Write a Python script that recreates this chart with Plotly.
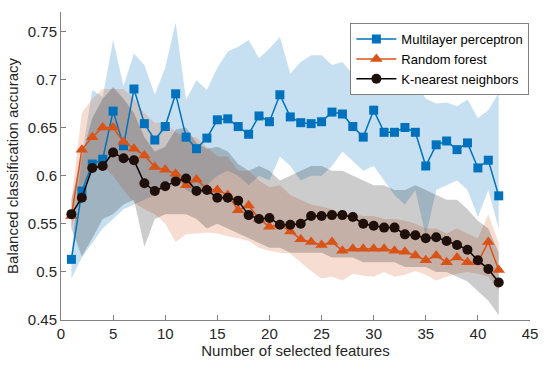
import plotly.graph_objects as go

n_features = list(range(1, 43))

mlp_mean = [0.513, 0.584, 0.612, 0.617, 0.667, 0.631, 0.690, 0.654, 0.637, 0.651,
            0.685, 0.640, 0.628, 0.639, 0.658, 0.659, 0.651, 0.643, 0.662, 0.656,
            0.684, 0.661, 0.655, 0.654, 0.656, 0.666, 0.664, 0.651, 0.640, 0.668,
            0.645, 0.645, 0.650, 0.645, 0.610, 0.632, 0.636, 0.627, 0.634, 0.608,
            0.616, 0.579]
mlp_upper = [0.520, 0.620, 0.689, 0.682, 0.741, 0.693, 0.727, 0.715, 0.684, 0.712,
             0.759, 0.679, 0.699, 0.689, 0.712, 0.729, 0.734, 0.741, 0.722, 0.732,
             0.744, 0.706, 0.718, 0.725, 0.725, 0.715, 0.718, 0.705, 0.703, 0.715,
             0.710, 0.705, 0.703, 0.698, 0.680, 0.675, 0.676, 0.672, 0.679, 0.660,
             0.668, 0.686]
mlp_lower = [0.493, 0.515, 0.530, 0.545, 0.555, 0.565, 0.570, 0.575, 0.580, 0.590,
             0.600, 0.585, 0.580, 0.590, 0.600, 0.605, 0.600, 0.590, 0.600, 0.595,
             0.620, 0.610, 0.595, 0.600, 0.600, 0.610, 0.625, 0.615, 0.605, 0.610,
             0.595, 0.580, 0.570, 0.585, 0.537, 0.585, 0.590, 0.595, 0.585, 0.557,
             0.585, 0.545]

rf_mean = [0.558, 0.627, 0.640, 0.650, 0.650, 0.635, 0.628, 0.621, 0.609, 0.606,
           0.602, 0.590, 0.596, 0.586, 0.585, 0.580, 0.564, 0.569, 0.555, 0.547,
           0.549, 0.542, 0.534, 0.531, 0.528, 0.531, 0.522, 0.524, 0.524, 0.524,
           0.524, 0.522, 0.521, 0.517, 0.512, 0.517, 0.510, 0.515, 0.510, 0.510,
           0.531, 0.502]
rf_upper = [0.575, 0.665, 0.680, 0.690, 0.690, 0.690, 0.680, 0.665, 0.655, 0.655,
            0.645, 0.640, 0.640, 0.630, 0.620, 0.620, 0.605, 0.605, 0.595, 0.588,
            0.590, 0.580, 0.575, 0.570, 0.568, 0.565, 0.560, 0.560, 0.558, 0.558,
            0.555, 0.555, 0.553, 0.550, 0.545, 0.545, 0.540, 0.545, 0.540, 0.535,
            0.560, 0.530]
rf_lower = [0.545, 0.590, 0.605, 0.610, 0.600, 0.585, 0.572, 0.565, 0.560, 0.550,
            0.531, 0.539, 0.540, 0.541, 0.540, 0.537, 0.535, 0.532, 0.525, 0.522,
            0.520, 0.519, 0.510, 0.501, 0.493, 0.495, 0.491, 0.498, 0.496, 0.495,
            0.500, 0.495, 0.497, 0.501, 0.497, 0.491, 0.495, 0.498, 0.500, 0.498,
            0.495, 0.480]

knn_mean = [0.560, 0.577, 0.608, 0.610, 0.624, 0.618, 0.616, 0.592, 0.584, 0.589,
            0.594, 0.597, 0.584, 0.585, 0.577, 0.577, 0.574, 0.559, 0.555, 0.556,
            0.549, 0.549, 0.550, 0.558, 0.558, 0.559, 0.559, 0.557, 0.550, 0.548,
            0.546, 0.546, 0.539, 0.538, 0.535, 0.536, 0.532, 0.528, 0.523, 0.512,
            0.503, 0.489]
knn_upper = [0.575, 0.620, 0.660, 0.680, 0.692, 0.680, 0.665, 0.640, 0.625, 0.630,
             0.648, 0.650, 0.634, 0.628, 0.630, 0.625, 0.612, 0.605, 0.610, 0.605,
             0.595, 0.600, 0.605, 0.610, 0.610, 0.605, 0.605, 0.600, 0.595, 0.590,
             0.590, 0.585, 0.585, 0.590, 0.585, 0.580, 0.575, 0.575, 0.565, 0.553,
             0.545, 0.520]
knn_lower = [0.545, 0.516, 0.535, 0.555, 0.560, 0.570, 0.575, 0.526, 0.555, 0.560,
             0.560, 0.560, 0.555, 0.545, 0.550, 0.545, 0.540, 0.535, 0.530, 0.525,
             0.525, 0.520, 0.520, 0.520, 0.520, 0.515, 0.515, 0.515, 0.510, 0.510,
             0.510, 0.510, 0.505, 0.505, 0.505, 0.500, 0.500, 0.495, 0.490, 0.480,
             0.470, 0.455]

x_ticks = [0, 5, 10, 15, 20, 25, 30, 35, 40, 45]
y_ticks = [0.45, 0.5, 0.55, 0.6, 0.65, 0.7, 0.75]
y_tick_text = ["0.45", "0.5", "0.55", "0.6", "0.65", "0.7", "0.75"]

series = [
    ("Multilayer perceptron", mlp_mean, mlp_upper, mlp_lower, "#0072BD",
     "rgba(0,114,189,0.22)", "square", 9, "#0072BD"),
    ("Random forest", rf_mean, rf_upper, rf_lower, "#D95319",
     "rgba(217,83,25,0.20)", "triangle-up", 11, "#D95319"),
    ("K-nearest neighbors", knn_mean, knn_upper, knn_lower, "#000000",
     "rgba(0,0,0,0.20)", "circle", 10, "#1e0f0a"),
]

fig = go.Figure()

for name, mean, up, lo, col, fcol, sym, msize, mfill in series:
    fig.add_trace(go.Scatter(
        x=n_features + n_features[::-1],
        y=up + lo[::-1],
        fill="toself", fillcolor=fcol, line=dict(width=0),
        mode="lines", hoverinfo="skip", showlegend=False))

for name, mean, up, lo, col, fcol, sym, msize, mfill in series:
    fig.add_trace(go.Scatter(
        x=n_features, y=mean, name=name, mode="lines+markers",
        line=dict(color=col, width=1.5),
        marker=dict(symbol=sym, size=msize, color=mfill,
                    line=dict(width=0))))

axis_common = dict(
    showgrid=False, zeroline=False, showline=True, linecolor="#808080",
    linewidth=1, ticks="inside", ticklen=5, tickcolor="#808080",
    tickfont=dict(family="Liberation Sans, Arial", size=15, color="#262626"),
    mirror=False,
)

fig.update_layout(
    width=550, height=368,
    margin=dict(l=59, r=14, t=12, b=46),
    paper_bgcolor="white", plot_bgcolor="white",
    font=dict(family="Liberation Sans, Arial", size=13, color="#262626"),
    xaxis=dict(range=[0, 45], tickvals=x_ticks,
               title=dict(text="Number of selected features", standoff=3,
                          font=dict(size=15, color="#262626")),
               **axis_common),
    yaxis=dict(range=[0.45, 0.77], tickvals=y_ticks, ticktext=y_tick_text,
               title=dict(text="Balanced classification accuracy", standoff=5,
                          font=dict(size=15, color="#262626")),
               **axis_common),
    legend=dict(x=0.617, y=0.964, xanchor="left", yanchor="top",
                bgcolor="white", bordercolor="#808080", borderwidth=1,
                font=dict(size=13, color="#000000"),
                tracegroupgap=0, itemwidth=40),
    showlegend=True,
)

fig.write_html("out.html", config={"displayModeBar": False},
               post_script="document.body.style.margin='0';document.body.style.padding='0';")
